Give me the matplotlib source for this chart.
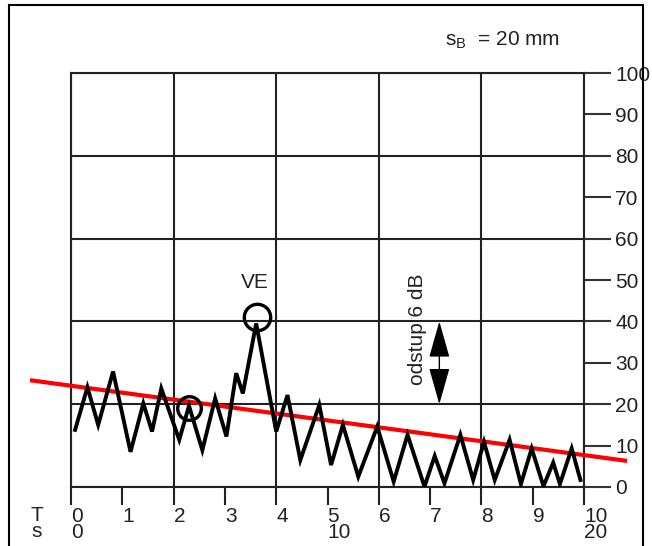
import matplotlib
matplotlib.use("Agg")
import matplotlib.pyplot as plt
from matplotlib.patches import FancyArrowPatch, ArrowStyle, Rectangle

plt.rcParams["font.family"] = ["Liberation Sans", "DejaVu Sans"]
plt.rcParams["font.size"] = 15
plt.rcParams["text.color"] = "#222222"

# echo trace (T in s, amplitude in %)
echo_x = [0.08, 0.32, 0.53, 0.82, 1.16, 1.41, 1.58, 1.76, 2.11, 2.30, 2.56, 2.81,
          3.03, 3.22, 3.35, 3.61, 4.00, 4.22, 4.47, 4.84, 5.07, 5.30, 5.60, 5.97,
          6.29, 6.56, 6.89, 7.09, 7.28, 7.59, 7.84, 8.05, 8.26, 8.55, 8.77, 8.98,
          9.21, 9.40, 9.53, 9.76, 9.93]
echo_y = [13.8, 24.1, 15.0, 27.9, 8.5, 20.2, 13.4, 23.8, 11.4, 19.6, 8.9, 21.4,
          12.2, 27.5, 22.6, 39.5, 13.4, 22.2, 6.5, 19.8, 5.3, 15.0, 2.5, 14.6,
          1.3, 12.6, 0.1, 7.5, 0.9, 12.6, 1.7, 10.9, 1.7, 11.4, 0.7, 9.3,
          0.2, 5.9, 0.7, 9.3, 1.7]

# reference (red) line
ref_x = [-0.8, 10.84]
ref_y = [25.8, 6.3]

# marked echoes
ve_pt = (3.62, 41)
small_pt = (2.30, 19)

x_ticks = list(range(0, 11))
x_labels = ["0\n0", "1", "2", "3", "4", "5\n10", "6", "7", "8", "9", "10\n20"]
y_ticks = list(range(0, 101, 10))
y_labels = [str(v) for v in y_ticks]

fig = plt.figure(figsize=(6.52, 5.46), dpi=100)
ax = fig.add_axes([71 / 652, 59 / 546, 513 / 652, 414 / 546])
ax.set_xlim(0, 10)
ax.set_ylim(0, 100)

# grid
for gx in range(0, 11, 2):
    ax.axvline(gx, color="#222222", lw=1.5, zorder=1)
for gy in range(0, 101, 20):
    ax.axhline(gy, color="#222222", lw=1.5, zorder=1)
for s in ax.spines.values():
    s.set_color("#222222")
    s.set_linewidth(1.5)

ax.set_xticks(x_ticks)
ax.set_xticklabels(x_labels, ha="left")
for lab in ax.get_xticklabels():
    lab.set_linespacing(0.8)
ax.tick_params(axis="x", direction="out", length=13, width=1.5, color="#222222",
               pad=1.5, labelsize=15, labelcolor="#222222")

ax.yaxis.tick_right()
ax.set_yticks(y_ticks)
ax.set_yticklabels(y_labels)
ax.tick_params(axis="y", direction="out", length=19.4, width=1.5, color="#333333",
               pad=3, labelsize=15, labelcolor="#222222")

ax.plot(ref_x, ref_y, color="#ff0000", lw=3, clip_on=False, zorder=3,
        solid_capstyle="butt")
ax.plot(echo_x, echo_y, color="black", lw=2.8, zorder=4, solid_joinstyle="miter")

ax.plot(*ve_pt, marker="o", ms=19, mfc="none", mec="black", mew=2.4, zorder=5)
ax.plot(*small_pt, marker="o", ms=17, mfc="none", mec="black", mew=2.4, zorder=5)
ax.text(3.58, 49.3, "VE", ha="center", va="center", fontsize=15)

arrow = FancyArrowPatch((7.18, 20), (7.18, 40),
                        arrowstyle=ArrowStyle("<|-|>", head_length=2.3, head_width=0.65),
                        mutation_scale=10, color="black", lw=1, shrinkA=0, shrinkB=0,
                        zorder=5)
ax.add_patch(arrow)
ax.text(6.75, 38, "odstup 6 dB", rotation=90, ha="center", va="center", fontsize=15)

fig.text(37 / 652, 1 - 506 / 546, "T\ns", ha="center", va="top", fontsize=15,
         linespacing=0.8)
fig.text(445 / 652, 1 - 40 / 546, r"s$_\mathregular{B}$  = 20 mm", ha="left",
         va="center", fontsize=15)

fig.add_artist(Rectangle((9 / 652, -0.01), 634 / 652, 1.0, transform=fig.transFigure,
                         fill=False, edgecolor="black", lw=1.5))

fig.savefig("out.png", dpi=100)
